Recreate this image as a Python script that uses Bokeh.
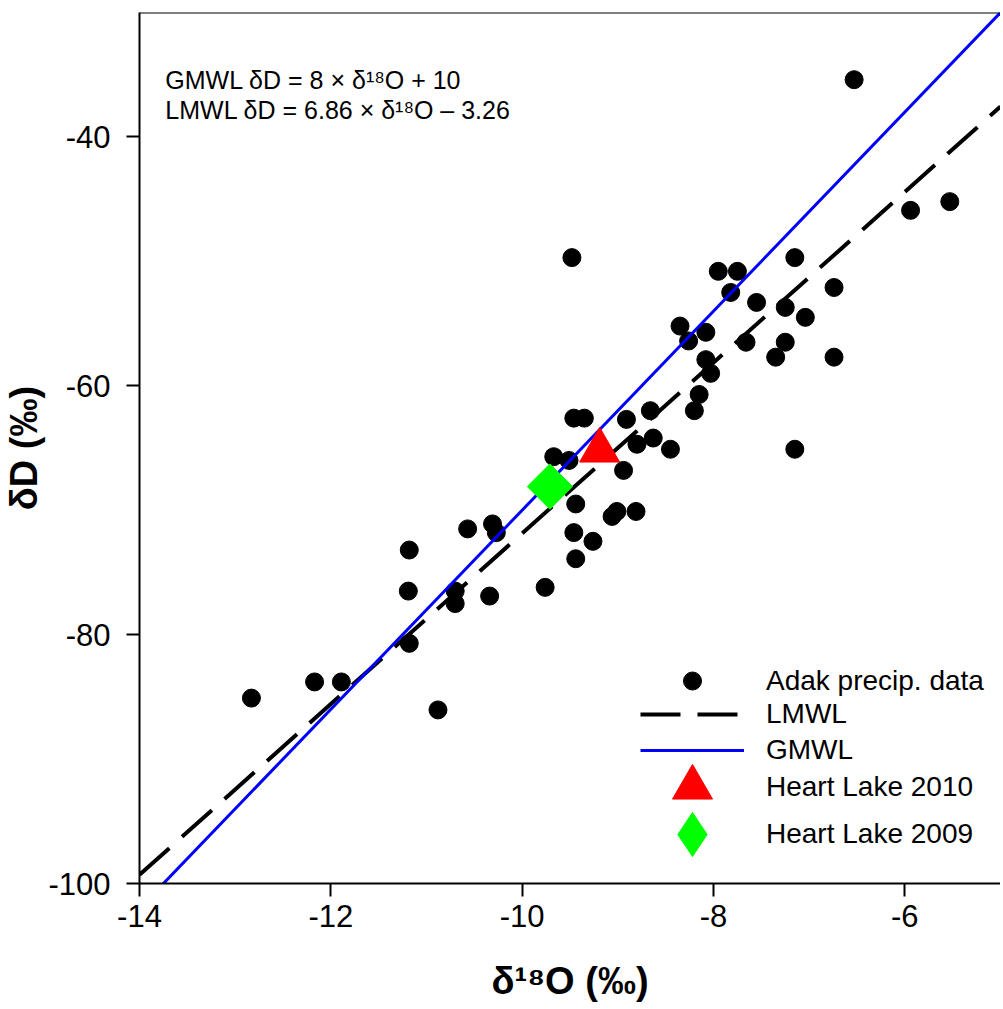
from math import pi
from bokeh.plotting import figure
from bokeh.models import FixedTicker, Legend, LegendItem, Label, Span, Range1d, PrintfTickFormatter
from bokeh.embed import file_html
from bokeh.resources import INLINE

# ---- data ----
adak_d18o = [-12.83, -12.17, -11.89, -11.18, -11.19, -11.18, -10.57, -10.70, -10.70, -10.88,
             -10.31, -10.27, -10.34, -9.76, -9.48, -9.46, -9.35, -8.91, -8.66, -8.80,
             -8.63, -8.45, -8.94, -9.67, -9.51, -9.44, -9.06, -9.01, -8.81, -9.46,
             -9.26, -9.44, -7.15, -7.95, -7.75, -7.82, -7.55, -6.74, -7.25, -7.04,
             -8.35, -8.08, -8.26, -7.66, -7.25, -7.35, -6.74, -8.08, -8.03, -8.15,
             -8.20, -7.15, -6.53, -5.94, -5.53]
adak_dd = [-85.1, -83.8, -83.8, -73.2, -76.5, -80.7, -71.5, -76.5, -77.5, -86.05,
           -71.1, -71.8, -76.9, -76.2, -49.7, -62.6, -62.6, -62.7, -62.0, -64.7,
           -64.2, -65.1, -66.8, -65.7, -66.0, -69.5, -70.5, -70.1, -70.1, -71.8,
           -72.5, -73.9, -49.7, -50.8, -50.8, -52.5, -53.3, -52.1, -53.7, -54.5,
           -55.2, -55.7, -56.4, -56.5, -56.5, -57.7, -57.7, -57.9, -59.0, -60.7,
           -62.0, -65.1, -35.4, -45.9, -45.2]

hl2010_d18o = [-9.19]
hl2010_dd = [-65.2]
hl2009_d18o = [-9.71]
hl2009_dd = [-68.1]

gmwl_slope, gmwl_intercept = 8.0, 10.0
lmwl_slope, lmwl_intercept = 6.86, -3.26
line_x = [-14.0, -5.0]

x_ticks = [-14, -12, -10, -8, -6]
y_ticks = [-100, -80, -60, -40]

legend_labels = ["Adak precip. data", "LMWL", "GMWL", "Heart Lake 2010", "Heart Lake 2009"]
eq_lines = ["GMWL \u03b4D = 8 \u00d7 \u03b4\u00b9\u2078O + 10",
            "LMWL \u03b4D = 6.86 \u00d7 \u03b4\u00b9\u2078O \u2013 3.26"]

FONT = "Liberation Sans"

p = figure(width=1000, height=1004, x_range=Range1d(-14, -5), y_range=Range1d(-100, -30),
           output_backend="svg", toolbar_location=None,
           min_border_left=139, min_border_right=0, min_border_top=12, min_border_bottom=121)
p.grid.visible = False
p.outline_line_color = None
p.background_fill_color = "white"
p.border_fill_color = "white"

for ax in (p.xaxis[0], p.yaxis[0]):
    ax.axis_line_color = "black"
    ax.axis_line_width = 2
    ax.major_tick_line_color = "black"
    ax.major_tick_line_width = 2
    ax.major_tick_out = 13
    ax.major_tick_in = 0
    ax.minor_tick_line_color = None
    ax.major_label_text_font = FONT
    ax.major_label_text_font_size = "31px"
    ax.major_label_text_color = "black"
    ax.axis_label_text_font = FONT
    ax.axis_label_text_font_style = "bold"
    ax.axis_label_text_color = "black"
    ax.formatter = PrintfTickFormatter(format="%d")

p.xaxis.ticker = FixedTicker(ticks=x_ticks)
p.yaxis.ticker = FixedTicker(ticks=y_ticks)
p.xaxis.major_label_standoff = 8
p.yaxis.major_label_standoff = 16
p.xaxis.axis_label = "\u03b4\u00b9\u2078O (\u2030)"
p.yaxis.axis_label = "\u03b4D (\u2030)"
p.xaxis.axis_label_text_font_size = "38px"
p.yaxis.axis_label_text_font_size = "38px"
p.xaxis.axis_label_standoff = 30
p.yaxis.axis_label_standoff = 0

p.add_layout(Span(location=-30, dimension="width", line_color="black", line_width=2))

r_pts = p.scatter(adak_d18o, adak_dd, size=18, color="black")
lmwl_y = [lmwl_slope * x + lmwl_intercept for x in line_x]
gmwl_y = [gmwl_slope * x + gmwl_intercept for x in line_x]
r_lmwl = p.line(line_x, lmwl_y, line_color="black", line_width=4, line_dash="40 17")
r_gmwl = p.line(line_x, gmwl_y, line_color="#0000ff", line_width=3)
r_tri = p.scatter(hl2010_d18o, hl2010_dd, marker="triangle", size=40, color="#ff0000")
r_dia = p.scatter(hl2009_d18o, hl2009_dd, marker="square", angle=pi / 4, size=32, color="#00ff00")
# same point as a diamond glyph, used only for the legend swatch
r_dia_key = p.scatter(hl2009_d18o, hl2009_dd, marker="diamond", size=44, color="#00ff00", visible=False)

# one legend per entry so each swatch keeps the reference size
legend_specs = [
    # label, renderer, glyph_w, glyph_h, loc_x, loc_y, standoff
    (legend_labels[0], r_pts, 104, 45, 501, 180, 22),
    (legend_labels[1], r_lmwl, 104, 38, 501, 150, 22),
    (legend_labels[2], r_gmwl, 104, 38, 501, 114, 22),
    (legend_labels[3], r_tri, 104, 100, 501, 46, 22),
    (legend_labels[4], r_dia_key, 110, 110, 498, -6, 19),
]
for lab, rend, gw, gh, lx, ly, so in legend_specs:
    lg = Legend(items=[LegendItem(label=lab, renderers=[rend])],
                location=(lx, ly), glyph_width=gw, glyph_height=gh, spacing=0,
                label_standoff=so, padding=0, margin=0, border_line_color=None,
                background_fill_alpha=0, label_text_font=FONT, label_text_font_size="28px",
                label_text_color="black", inactive_fill_alpha=0)
    p.add_layout(lg)

p.add_layout(Label(x=-13.73, y=-35.4, text=eq_lines[0], text_font=FONT, text_font_size="25px",
                   text_baseline="alphabetic", text_color="black"))
p.add_layout(Label(x=-13.73, y=-37.8, text=eq_lines[1], text_font=FONT, text_font_size="25px",
                   text_baseline="alphabetic", text_color="black"))

open("out.html", "w").write(file_html(p, INLINE))
